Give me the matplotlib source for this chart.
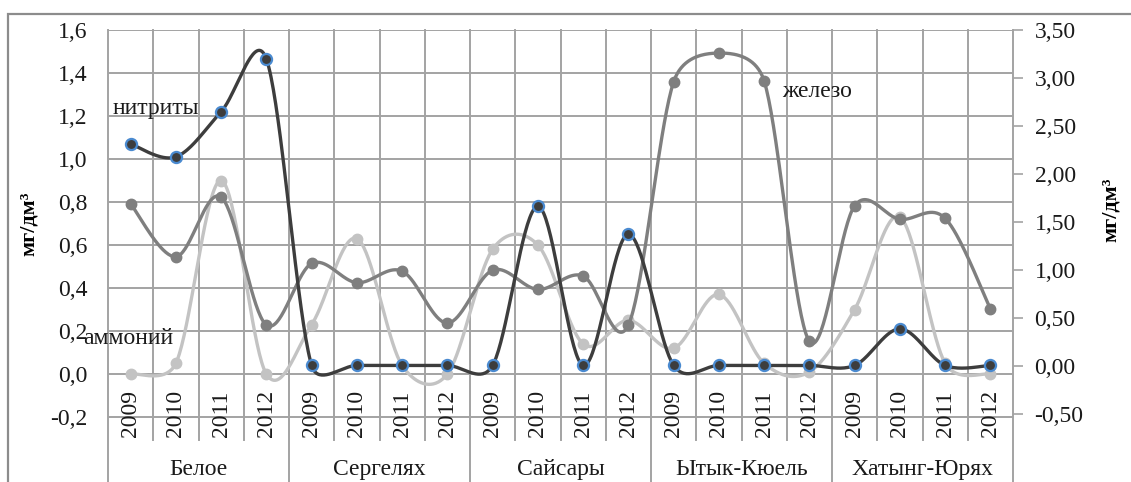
import matplotlib
matplotlib.use('Agg')
import matplotlib.pyplot as plt
import matplotlib.transforms as mtransforms
from matplotlib.patches import Rectangle
import numpy as np

# lakes and years
lakes = ['Белое', 'Сергелях', 'Сайсары', 'Ытык-Кюель', 'Хатынг-Юрях']
years = ['2009', '2010', '2011', '2012']

# values, mg/dm3 (left axis)
nitrity = [1.07, 1.01, 1.22, 1.465,
           0.04, 0.04, 0.04, 0.04,
           0.04, 0.78, 0.04, 0.65,
           0.04, 0.04, 0.04, 0.04,
           0.04, 0.21, 0.04, 0.04]
ammoniy = [0.00, 0.05, 0.90, 0.00,
           0.23, 0.63, 0.04, 0.00,
           0.58, 0.60, 0.14, 0.25,
           0.12, 0.37, 0.05, 0.01,
           0.30, 0.73, 0.05, 0.00]
# iron, right axis
zhelezo = [1.69, 1.14, 1.76, 0.43,
           1.07, 0.87, 0.99, 0.45,
           1.00, 0.80, 0.94, 0.43,
           2.96, 3.26, 2.97, 0.26,
           1.67, 1.53, 1.54, 0.60]

left_ticks = [-0.2, 0.0, 0.2, 0.4, 0.6, 0.8, 1.0, 1.2, 1.4, 1.6]
right_ticks = [-0.5, 0.0, 0.5, 1.0, 1.5, 2.0, 2.5, 3.0, 3.5]


# excel-like smoothed line: bezier in screen space,
# control arm = min(1/6 of neighbour chord, half the segment)
def smooth(a, xs, ys, n=40):
    P = a.transData.transform(np.column_stack([xs, ys]).astype(float))
    out = []
    for i in range(len(P) - 1):
        p0 = P[i - 1] if i > 0 else P[i]
        p1 = P[i]
        p2 = P[i + 1]
        p3 = P[i + 2] if i + 2 < len(P) else P[i + 1]
        d12 = np.hypot(*(p2 - p1))
        v1 = p2 - p0
        v2 = p3 - p1
        d02 = np.hypot(*v1)
        d13 = np.hypot(*v2)
        c1 = p1 + (v1 * min(d02/6, d12/2) / d02 if d02 > 0 else 0)
        c2 = p2 - (v2 * min(d13/6, d12/2) / d13 if d13 > 0 else 0)
        t = np.linspace(0, 1, n)[:, None]
        seg = (1-t)**3*p1 + 3*(1-t)**2*t*c1 + 3*(1-t)*t**2*c2 + t**3*p2
        out.append(seg if i == 0 else seg[1:])
    s = a.transData.inverted().transform(np.vstack(out))
    return s[:, 0], s[:, 1]


plt.rcParams['font.family'] = ['Liberation Serif', 'DejaVu Serif']

fig = plt.figure(figsize=(11.31, 4.82), dpi=100)
ax = fig.add_axes([108/1131, 42/482, 905/1131, 410/482])
ax2 = ax.twinx()
ax3 = ax.twinx()

x = np.arange(len(lakes) * len(years))
ext = 23 / 43.06   # plot area below lowest gridline, in grid steps
ax.set_xlim(-0.5, len(x) - 0.5)
ax.set_ylim(-0.2 - ext*0.2, 1.6)
ax3.set_ylim(ax.get_ylim())
ax2.set_ylim(-0.5 - ext*0.5, 3.5)

gridc = '#a3a3a3'
for a in (ax, ax2, ax3):
    for s in a.spines.values():
        s.set_visible(False)
    a.set_xticks([])

fs = 17
ax.set_yticks(left_ticks)
ax.set_yticklabels([f'{v:.1f}'.replace('.', ',') for v in left_ticks])
ax.tick_params(axis='y', length=0, pad=14.5, labelsize=fs, labelcolor='#1a1a1a')
ax.grid(axis='y', color=gridc, lw=1.4)
ax.set_axisbelow(True)

ax2.set_yticks(right_ticks)
ax2.set_yticklabels([f'{v:.2f}'.replace('.', ',') for v in right_ticks])
ax2.tick_params(axis='y', length=7, width=1.2, color=gridc, pad=8.5,
                labelsize=fs, labelcolor='#1a1a1a')
ax3.set_yticks([])

# light grey - ammonium
sx, sy = smooth(ax, x, ammoniy)
ax.plot(sx, sy, color='#c3c3c3', lw=2.4, zorder=3)
ax.plot(x, ammoniy, 'o', color='#c3c3c3', ms=7.5, zorder=3)

# iron on right axis
sx, sy = smooth(ax2, x, zhelezo)
ax2.plot(sx, sy, color='#7f7f7f', lw=2.4, zorder=3)
ax2.plot(x, zhelezo, 'o', color='#7f7f7f', ms=7.5, zorder=3)

# nitrites on top
sx, sy = smooth(ax3, x, nitrity)
ax3.plot(sx, sy, color='#3d3d3d', lw=2.4, zorder=3)
ax3.plot(x, nitrity, 'o', color='#3d3d3d', mec='#4a8ad0', mew=1.6, ms=8, zorder=4)

# category dividers and labels
trans = mtransforms.blended_transform_factory(ax.transData, ax.transAxes)
for b in np.arange(-0.5, len(x), 1.0):
    bottom = -0.12 if (b + 0.5) % len(years) == 0 else 0.0
    ax.plot([b, b], [1, bottom], color=gridc, lw=1.4, transform=trans,
            clip_on=False, zorder=1)
for i in x:
    ax.text(i, 0.064, years[i % len(years)], transform=trans, rotation=90,
            ha='center', va='center', fontsize=fs, color='#1a1a1a')
for j, name in enumerate(lakes):
    ax.text(j*len(years) + (len(years) - 1)/2, -0.073, name, transform=trans,
            ha='center', va='center', fontsize=fs, color='#1a1a1a')

# series names
ax.text(-0.39, 1.233, 'нитриты', fontsize=fs, ha='left', va='center', color='#1a1a1a')
ax.text(-1.05, 0.163, 'аммоний', fontsize=fs, ha='left', va='center', color='#1a1a1a')
ax.text(14.39, 1.316, 'железо', fontsize=fs, ha='left', va='center', color='#1a1a1a')

fig.text(29/1131, 1 - 224/482, 'мг/дм³', rotation=90, fontsize=16,
         fontweight='bold', ha='center', va='center')
fig.text(1111/1131, 1 - 210/482, 'мг/дм³', rotation=90, fontsize=16,
         fontweight='bold', ha='center', va='center')

# outer chart frame
fig.patches.append(Rectangle((8/1131, -0.1), 1.1, (482-14)/482 + 0.1,
                             transform=fig.transFigure, fill=False,
                             edgecolor='#8c8c8c', lw=1.6))

fig.savefig('out.png', dpi=100)
